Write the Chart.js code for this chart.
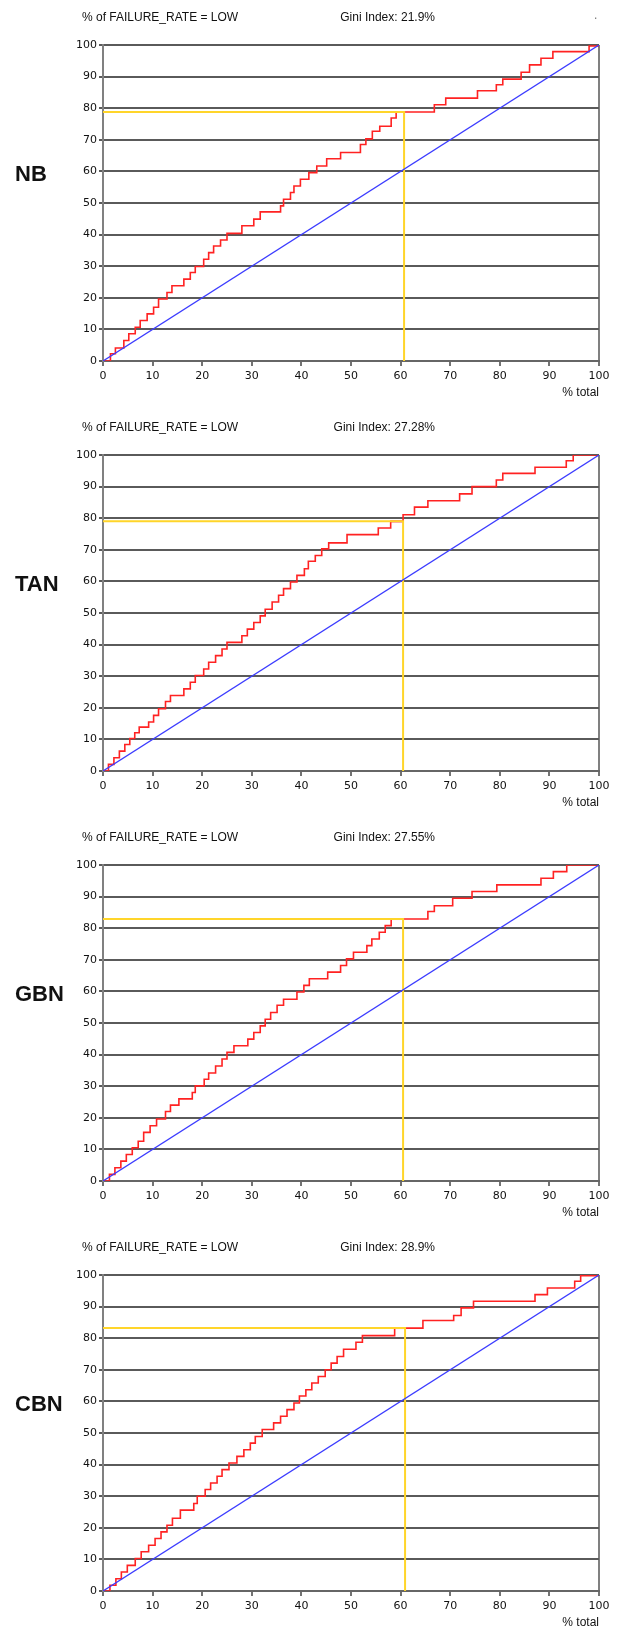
<!DOCTYPE html>
<html>
<head>
<meta charset="utf-8">
<script src="https://cdn.jsdelivr.net/npm/chart.js@4.4.1/dist/chart.umd.min.js"></script>
<style>
    body {
        margin: 0;
        background: #fff;
        font-family: "Liberation Sans", Arial, sans-serif;
    }
    .page {
        position: relative;
        width: 621px;
        height: 1630px;
        overflow: hidden;
    }
    .panel {
        position: absolute;
        left: 0;
        width: 621px;
        height: 400px;
    }
    .panel canvas {
        position: absolute;
        left: 0;
        top: 0;
    }
    .panel__title {
        position: absolute;
        left: 82px;
        top: 10px;
        font-size: 12px;
        line-height: 14px;
        color: #111;
        white-space: nowrap;
    }
    .panel__gini {
        position: absolute;
        left: 285px;
        width: 150px;
        top: 10px;
        font-size: 12px;
        line-height: 14px;
        color: #111;
        text-align: right;
        white-space: nowrap;
    }
    .panel__name {
        position: absolute;
        left: 15px;
        top: 161px;
        font-size: 22px;
        line-height: 26px;
        font-weight: bold;
        color: #111;
    }
    .panel__dot {
        position: absolute;
        left: 594px;
        top: 8px;
        font-size: 12px;
        line-height: 14px;
        color: #777;
    }
</style>
</head>
<body>
<div class="page" id="page"></div>

<script>
// ---- data ----
const panelNames = ['NB', 'TAN', 'GBN', 'CBN'];
const titleText = '% of FAILURE_RATE = LOW';
const giniValues = ['21.9%', '27.28%', '27.55%', '28.9%'];
const axisTicks = [0, 10, 20, 30, 40, 50, 60, 70, 80, 90, 100];

// random model (diagonal)
const diagX = [0, 100];
const diagY = [0, 100];

// red gains curves: x where each step is reached, and the level after the step
const nbX = [1.5, 2.5, 4.2, 5.2, 6.5, 7.5, 8.9, 10.2, 11.2, 12.9, 13.9, 16.3, 17.6, 18.6, 20.3, 21.3, 22.3, 23.7, 25, 28, 30.4, 31.7, 35.8, 36.4, 37.8, 38.5, 39.8, 41.5, 43.1, 45.1, 47.9, 51.9, 53, 54.3, 55.8, 58.1, 59.1, 66.8, 69.1, 75.5, 79.3, 80.6, 84.3, 86, 88.3, 90.7, 98, 100];
const nbY = [2.3, 4.1, 6.5, 8.6, 10.7, 12.8, 14.9, 17, 19.6, 21.7, 23.8, 25.9, 28, 29.9, 32.2, 34.3, 36.4, 38.3, 40.4, 42.8, 44.9, 47.2, 49.1, 51.2, 53.3, 55.4, 57.5, 59.6, 61.7, 64, 66, 68.5, 70.3, 72.7, 74.3, 76.9, 78.8, 81.1, 83.2, 85.5, 87.4, 89.2, 91.4, 93.7, 95.8, 97.9, 99.7, 100];

const tanX = [1.1, 2.2, 3.3, 4.4, 5.4, 6.4, 7.3, 9.2, 10.2, 11.2, 12.6, 13.6, 16.3, 17.6, 18.6, 20.3, 21.3, 22.7, 24, 25, 28, 29.1, 30.4, 31.7, 32.7, 34.1, 35.4, 36.4, 37.8, 39.1, 40.6, 41.4, 42.8, 44.1, 45.5, 49.2, 55.5, 58, 60.5, 62.8, 65.5, 71.9, 74.4, 79.3, 80.6, 87.1, 93.4, 94.8, 100];
const tanY = [2.1, 4.2, 6.3, 8.4, 10.3, 12.1, 13.9, 15.5, 17.6, 19.7, 22, 23.9, 26, 28.1, 30.2, 32.3, 34.4, 36.5, 38.6, 40.7, 42.8, 44.9, 47, 49.1, 51.2, 53.5, 55.6, 57.7, 59.8, 61.9, 64, 66.4, 68.2, 70.3, 72.2, 74.8, 76.9, 79, 81.1, 83.5, 85.5, 87.7, 90, 92.1, 94.2, 96.1, 98.2, 100, 100];

const gbnX = [1.3, 2.4, 3.6, 4.7, 5.9, 7.1, 8.2, 9.5, 10.8, 12.6, 13.6, 15.3, 18, 18.6, 20.4, 21.3, 22.7, 24, 25, 26.4, 29.2, 30.4, 31.7, 32.7, 33.8, 35.1, 36.4, 39.1, 40.5, 41.6, 45.3, 47.9, 49.1, 50.5, 53.2, 54.2, 55.7, 56.9, 58.1, 65.5, 66.8, 70.5, 74.4, 79.4, 88.3, 90.8, 93.5, 100];
const gbnY = [2.1, 4.2, 6.3, 8.4, 10.5, 12.6, 15.4, 17.5, 19.6, 22, 24, 26, 28, 30.1, 32.2, 34.2, 36.4, 38.6, 40.7, 42.8, 44.9, 47, 49.1, 51.2, 53.3, 55.6, 57.5, 59.8, 61.9, 64, 66.1, 68.2, 70.3, 72.4, 74.5, 76.6, 78.7, 80.8, 82.9, 85.3, 87.1, 89.5, 91.6, 93.7, 95.8, 97.9, 100, 100];

const cbnX = [1.4, 2.6, 3.7, 4.9, 6.5, 7.7, 9.2, 10.5, 11.7, 12.9, 14, 15.6, 18.3, 19, 20.6, 21.7, 23, 24, 25.4, 27, 28.4, 29.7, 30.7, 32.1, 34.4, 35.8, 37.1, 38.5, 39.6, 40.9, 42.1, 43.4, 44.8, 46, 47.2, 48.5, 51, 52.3, 58.8, 64.5, 70.7, 72.2, 74.7, 87.1, 89.6, 95.1, 96.3, 100];
const cbnY = [1.8, 3.9, 6, 8.1, 10.3, 12.4, 14.5, 16.6, 18.7, 20.8, 23, 25.6, 27.7, 30, 32.1, 34.2, 36.3, 38.4, 40.5, 42.6, 44.7, 46.8, 48.9, 51.1, 53.2, 55.3, 57.4, 59.5, 61.7, 63.7, 65.8, 67.9, 70, 72.1, 74.2, 76.5, 78.7, 80.8, 83.2, 85.6, 87.2, 89.6, 91.7, 93.8, 95.9, 98, 99.8, 100];

// yellow cut-off lines and the pink piece on top of it
const cutX = [60.7, 60.5, 60.5, 60.9];
const cutY = [78.8, 79, 82.9, 83.2];
const pinkStart = [59.1, 58, 58.1, 58.8];

const curvesX = [nbX, tanX, gbnX, cbnX];
const curvesY = [nbY, tanY, gbnY, cbnY];

// ---- drawing ----
Chart.defaults.font.family = '"DejaVu Sans", Verdana, sans-serif';
Chart.defaults.font.size = 11;
Chart.defaults.color = '#111';

const page = document.getElementById('page');

function points(xs, ys) {
    let result = [];
    for (let i = 0; i < xs.length; i++) {
        result.push({x: xs[i], y: ys[i]});
    }
    return result;
}

function addText(parent, cls, text) {
    const el = document.createElement('div');
    el.className = cls;
    el.textContent = text;
    parent.appendChild(el);
}

function makePanel(i) {
    const panel = document.createElement('div');
    panel.className = 'panel';
    panel.style.top = (i * 410) + 'px';

    const canvas = document.createElement('canvas');
    canvas.width = 621;
    canvas.height = 400;
    panel.appendChild(canvas);

    addText(panel, 'panel__title', titleText);
    addText(panel, 'panel__gini', 'Gini Index: ' + giniValues[i]);
    addText(panel, 'panel__name', panelNames[i]);
    if (i === 0) addText(panel, 'panel__dot', '.');

    page.appendChild(panel);

    const red = [{x: 0, y: 0}].concat(points(curvesX[i], curvesY[i]));

    new Chart(canvas.getContext('2d'), {
        type: 'line',
        data: {
            datasets: [
                {
                    // diagonal
                    data: points(diagX, diagY),
                    borderColor: '#3c3cff',
                    borderWidth: 1.3,
                    pointRadius: 0,
                },
                {
                    // cut-off lines
                    data: points([0, cutX[i], cutX[i]], [cutY[i], cutY[i], 0]),
                    borderColor: '#ffd52a',
                    borderWidth: 2,
                    pointRadius: 0,
                },
                {
                    data: red,
                    borderColor: '#ff2222',
                    borderWidth: 1.6,
                    pointRadius: 0,
                    stepped: true,
                },
                {
                    data: points([pinkStart[i], cutX[i]], [cutY[i], cutY[i]]),
                    borderColor: '#ff77ff',
                    borderWidth: 2,
                    pointRadius: 0,
                },
            ]
        },
        options: {
            responsive: false,
            animation: false,
            layout: {
                padding: {top: 45, left: 0, right: 22, bottom: 0}
            },
            scales: {
                x: {
                    type: 'linear',
                    min: 0,
                    max: 100,
                    afterBuildTicks: scale => {
                        scale.ticks = axisTicks.map(v => ({value: v}));
                    },
                    afterFit: scale => {
                        scale.height = 39;
                    },
                    grid: {
                        color: c => (c.tick && c.tick.value === 100) ? '#808080' : 'rgba(0,0,0,0)',
                        lineWidth: 2,
                        tickColor: '#444',
                        tickWidth: 1.5,
                        tickLength: 5,
                    },
                    border: {
                        color: '#666',
                        width: 2,
                    },
                    ticks: {
                        padding: 4,
                        maxRotation: 0,
                        color: '#111',
                    },
                    title: {
                        display: true,
                        text: '% total',
                        align: 'end',
                        color: '#111',
                        font: {family: '"Liberation Sans", Arial, sans-serif', size: 12},
                        padding: {top: 0, bottom: 0},
                    },
                },
                y: {
                    type: 'linear',
                    min: 0,
                    max: 100,
                    afterBuildTicks: scale => {
                        scale.ticks = axisTicks.map(v => ({value: v}));
                    },
                    afterFit: scale => {
                        scale.width = 103;
                    },
                    grid: {
                        color: '#5a5a5a',
                        lineWidth: 2,
                        tickColor: '#5a5a5a',
                        tickLength: 4,
                    },
                    border: {
                        color: '#808080',
                        width: 2,
                    },
                    ticks: {
                        padding: 2,
                        color: '#111',
                    },
                },
            },
            plugins: {
                legend: {display: false},
                tooltip: {enabled: false},
            }
        }
    });
}

panelNames.forEach((n, i) => makePanel(i));
</script>
</body>
</html>
